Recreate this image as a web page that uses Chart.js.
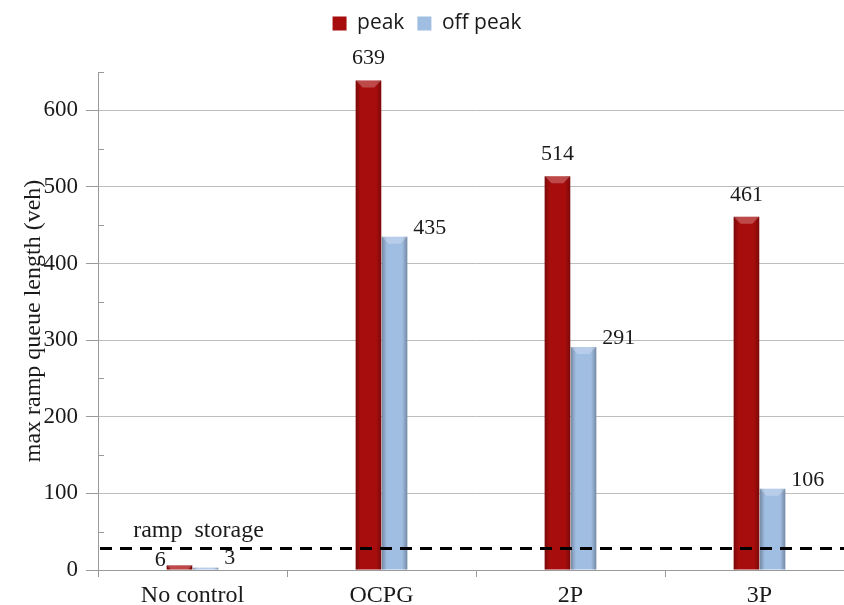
<!DOCTYPE html>
<html lang="en">
<head>
  <meta charset="UTF-8">
  <title>max ramp queue length</title>
  <script src="https://cdn.jsdelivr.net/npm/chart.js"></script>
  <style>
    html, body { margin: 0; padding: 0; background: #fff; overflow: hidden; }
    .wrap { position: absolute; left: 0; top: 0; width: 856px; height: 605px; }
  </style>
</head>
<body>
  <div class="wrap"><canvas id="queueChart"></canvas></div>

  <script>
    const categories = ["No control", "OCPG", "2P", "3P"];
    const peak = [6, 639, 514, 461];
    const offPeak = [3, 435, 291, 106];
    const rampStorage = 28;
    const yTicks = [0, 100, 200, 300, 400, 500, 600];

    const serif = "'Liberation Serif', 'Times New Roman', serif";
    const textColor = "#1a1a1a";

    // leave room under the legend, the plot starts lower in the original
    const legendGap = {
      id: "legendGap",
      beforeLayout(chart) {
        const lg = chart.legend;
        if (!lg || lg._gapAdded) return;
        const fit = lg.fit.bind(lg);
        lg.fit = function () { fit(); this.height += 28; };
        lg._gapAdded = true;
      }
    };

    // short inner ticks at the half steps
    const minorTicks = {
      id: "minorTicks",
      afterDraw(chart) {
        const y = chart.scales.y, ctx = chart.ctx, left = chart.chartArea.left;
        ctx.save();
        ctx.strokeStyle = "#9a9a9a";
        ctx.lineWidth = 1;
        for (let v = 50; v <= y.max; v += 100) {
          const py = Math.round(y.getPixelForValue(v)) + 0.5;
          ctx.beginPath();
          ctx.moveTo(left, py);
          ctx.lineTo(left + 6, py);
          ctx.stroke();
        }
        ctx.restore();
      }
    };

    // darker edges and a light top bevel on each bar
    const bevel = {
      id: "bevel",
      afterDatasetsDraw(chart) {
        const ctx = chart.ctx;
        ctx.save();
        chart.data.datasets.forEach((ds, di) => {
          chart.getDatasetMeta(di).data.forEach(bar => {
            const w = bar.width, l = bar.x - w / 2, top = bar.y, bottom = bar.base;
            if (bottom - top < 1) return;
            const g = ctx.createLinearGradient(l, 0, l + w, 0);
            g.addColorStop(0, "rgba(0,0,0,0.28)");
            g.addColorStop(0.2, "rgba(0,0,0,0)");
            g.addColorStop(0.8, "rgba(0,0,0,0)");
            g.addColorStop(1, "rgba(0,0,0,0.28)");
            ctx.fillStyle = g;
            ctx.fillRect(l, top, w, bottom - top);
            const h = Math.min(7, bottom - top);
            ctx.fillStyle = "rgba(255,255,255,0.25)";
            ctx.beginPath();
            ctx.moveTo(l, top);
            ctx.lineTo(l + w, top);
            ctx.lineTo(l + w - h, top + h);
            ctx.lineTo(l + h, top + h);
            ctx.closePath();
            ctx.fill();
          });
        });
        ctx.restore();
      }
    };

    // dashed ramp storage line with its caption
    const storageLine = {
      id: "storageLine",
      afterDatasetsDraw(chart) {
        const ctx = chart.ctx, area = chart.chartArea;
        const py = chart.scales.y.getPixelForValue(rampStorage);
        ctx.save();
        ctx.strokeStyle = "#000";
        ctx.lineWidth = 3;
        ctx.setLineDash([12, 8]);
        ctx.beginPath();
        ctx.moveTo(area.left + 2, py);
        ctx.lineTo(area.right, py);
        ctx.stroke();
        ctx.setLineDash([]);
        ctx.font = "24px " + serif;
        ctx.fillStyle = textColor;
        ctx.textAlign = "center";
        ctx.textBaseline = "alphabetic";
        ctx.fillText("ramp  storage", chart.scales.x.getPixelForValue(0) + 6, py - 12);
        ctx.restore();
      }
    };

    // value labels: peak above the bar, off peak to its right
    const valueLabels = {
      id: "valueLabels",
      afterDatasetsDraw(chart) {
        const ctx = chart.ctx;
        ctx.save();
        ctx.font = "22px " + serif;
        ctx.fillStyle = textColor;
        ctx.textBaseline = "middle";
        chart.data.datasets.forEach((ds, di) => {
          chart.getDatasetMeta(di).data.forEach((bar, i) => {
            const v = ds.data[i], half = bar.width / 2;
            if (di === 0) {
              if (v < 50) {
                ctx.textAlign = "right";
                ctx.fillText(v, bar.x - half - 1, bar.y - 5);
              } else {
                ctx.textAlign = "center";
                ctx.fillText(v, bar.x, bar.y - 22);
              }
            } else {
              ctx.textAlign = "left";
              ctx.fillText(v, bar.x + half + 6, bar.y - 9);
            }
          });
        });
        ctx.restore();
      }
    };

    new Chart(document.getElementById("queueChart"), {
      type: "bar",
      data: {
        labels: categories,
        datasets: [
          { label: "peak", data: peak, backgroundColor: "#a80d0d", borderWidth: 0 },
          { label: "off peak", data: offPeak, backgroundColor: "#a0bde2", borderWidth: 0 }
        ]
      },
      options: {
        responsive: true,
        maintainAspectRatio: false,
        animation: false,
        layout: { padding: { top: 0, left: 0, right: 2, bottom: 0 } },
        datasets: { bar: { categoryPercentage: 0.276, barPercentage: 0.98 } },
        plugins: {
          legend: {
            position: "top",
            labels: {
              font: { family: "'Open Sans', sans-serif", size: 21 },
              color: textColor,
              boxWidth: 14,
              boxHeight: 14,
              padding: 13
            }
          },
          tooltip: { enabled: false }
        },
        scales: {
          x: {
            grid: { offset: true, drawOnChartArea: false, color: "#9a9a9a", tickLength: 7 },
            border: { color: "#9a9a9a" },
            ticks: { font: { family: serif, size: 24 }, color: textColor, padding: 4 },
            afterFit(s) { s.height = 35; }
          },
          y: {
            min: 0,
            max: 650,
            afterBuildTicks(s) {
              s.ticks = yTicks.concat([650]).map(v => ({ value: v }));
            },
            grid: {
              color: c => (c.tick && c.tick.value % 100 === 0 && c.tick.value > 0) ? "#bdbdbd" : "rgba(0,0,0,0)",
              tickColor: c => (c.tick && c.tick.value % 100 === 0) ? "#9a9a9a" : "rgba(0,0,0,0)",
              tickLength: 12
            },
            border: { color: "#9a9a9a" },
            ticks: {
              font: { family: serif, size: 23 },
              color: textColor,
              padding: 8,
              callback: v => (yTicks.includes(v) ? v : "")
            },
            title: {
              display: true,
              text: "max ramp queue length (veh)",
              font: { family: serif, size: 24 },
              color: textColor,
              padding: { top: 19, bottom: 0 }
            },
            afterFit(s) { s.width = 98; }
          }
        }
      },
      plugins: [legendGap, minorTicks, bevel, storageLine, valueLabels]
    });
  </script>
</body>
</html>
